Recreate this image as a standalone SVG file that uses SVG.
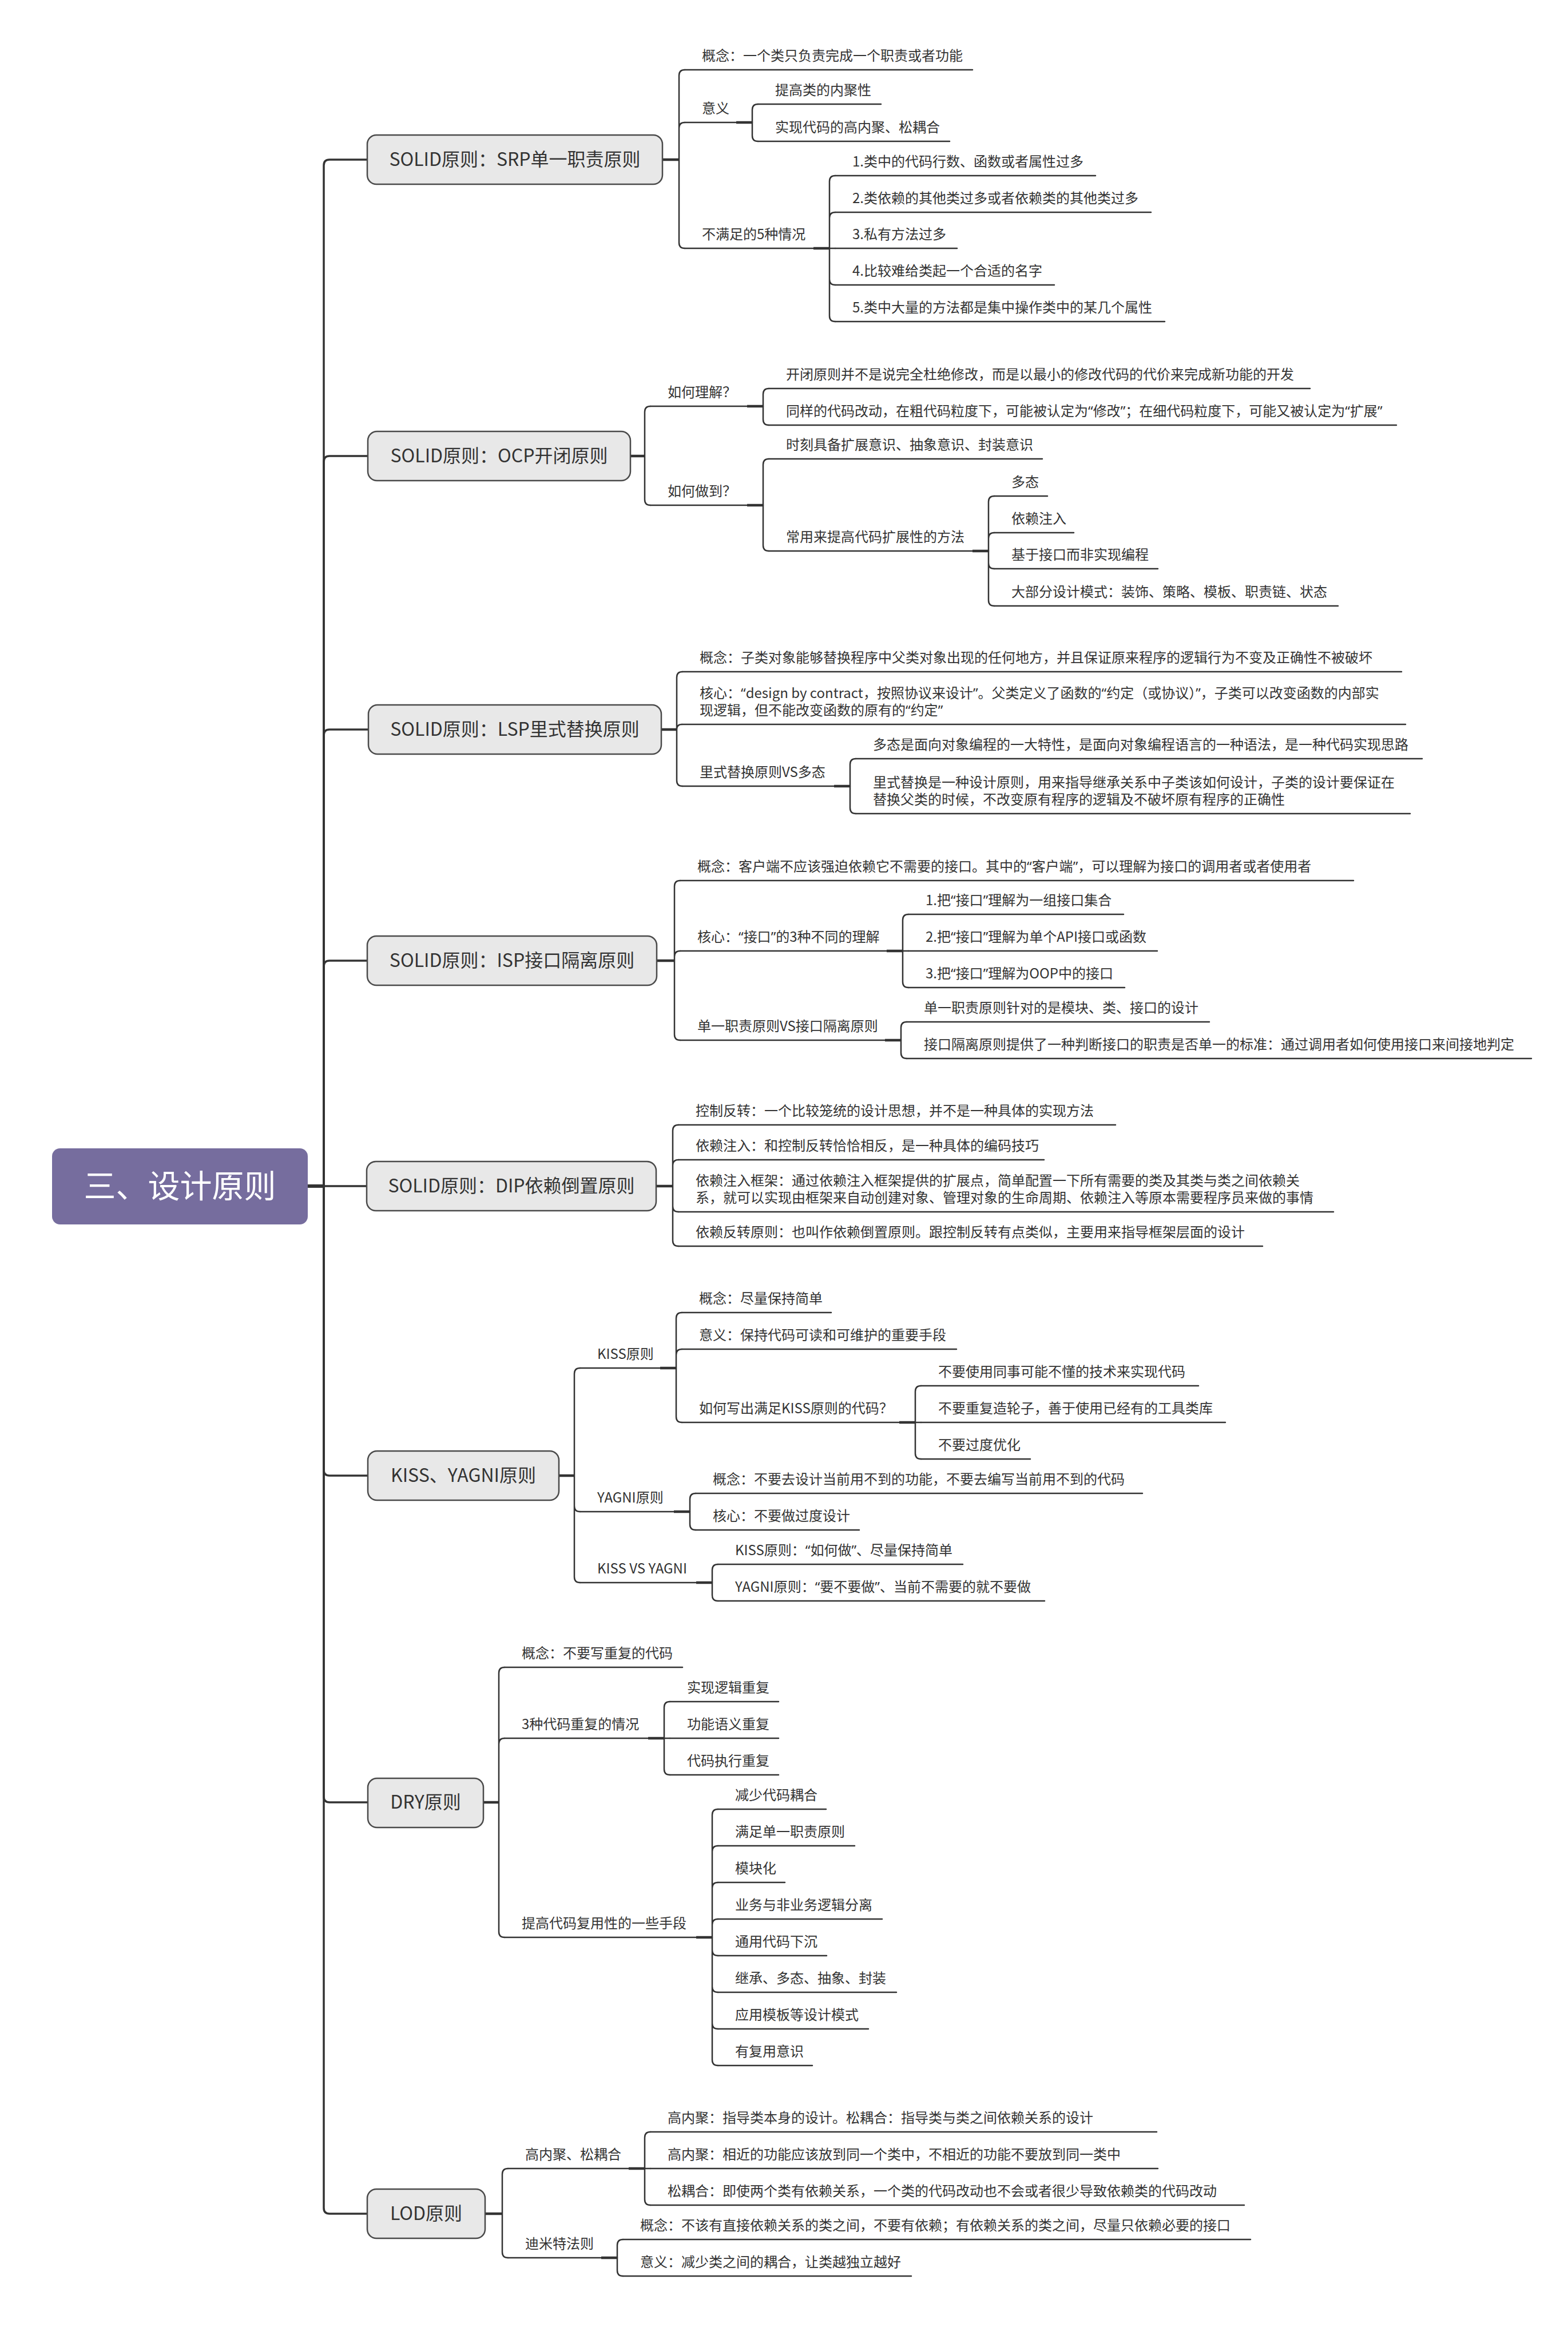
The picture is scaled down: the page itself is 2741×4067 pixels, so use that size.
<svg xmlns="http://www.w3.org/2000/svg" width="2741" height="4067" viewBox="0 0 2741 4067">
<style>
.bg{fill:#ffffff}
text{font-family:"Noto Sans CJK SC","Noto Sans",sans-serif;fill:#333333}
.q{font-family:"Noto Sans","DejaVu Sans",sans-serif}
.t{font-size:24px}
.l1{font-size:32px;text-anchor:middle}
.rt{font-size:56px;fill:#ffffff;text-anchor:middle}
.box{fill:#E8E8E8;stroke:#4a4a4a;stroke-width:2.5}
.root{fill:#766D9E}
.c{fill:none;stroke:#333333;stroke-width:2.5;stroke-linecap:round}
.k{fill:none;stroke:#333333;stroke-width:4.5}
.tr{fill:none;stroke:#333333;stroke-width:3.5}
.rs{fill:none;stroke:#333333;stroke-width:6}
.u{stroke:#333333;stroke-width:2.5;stroke-linecap:round}
</style>
<rect class="bg" x="0" y="0" width="2741" height="4067"/>
<g id="connectors">
<path class="rs" d="M538 2073 H568"/>
<path class="tr" d="M566 2073 V289 Q566 279 576 279 H642"/>
<path class="tr" d="M566 2073 V807 Q566 797 576 797 H643"/>
<path class="tr" d="M566 2073 V1285 Q566 1275 576 1275 H644"/>
<path class="tr" d="M566 2073 V1689 Q566 1679 576 1679 H642"/>
<path class="tr" d="M566 2073 H641"/>
<path class="tr" d="M566 2073 V2569 Q566 2579 576 2579 H643"/>
<path class="tr" d="M566 2073 V3140 Q566 3150 576 3150 H643"/>
<path class="tr" d="M566 2073 V3859 Q566 3869 576 3869 H642"/>
<path class="k" d="M1158 279 H1187 M1102 797 H1127 M1156 1275 H1183 M1148 1679 H1179 M1147 2073 H1176 M977 2579 H1004 M845 3150 H872 M848 3869 H878"/>
<path class="k" d="M1287 214 H1315 M1422 434 H1450 M1306 710 H1334 M1306 883 H1334 M1700 963 H1728 M1458 1374 H1486 M1550 1662 H1578 M1547 1818 H1575 M1154 2391 H1182 M1178 2642 H1206 M1217 2766 H1245 M1572 2486 H1600 M1133 3038 H1161 M1217 3386 H1245 M1099 3790 H1127 M1051 3946 H1079"/>
<path class="c" d="M1187 279 V132 Q1187 122 1197 122 M1187 279 V224 Q1187 214 1197 214 M1187 279 V424 Q1187 434 1197 434"/>
<path class="c" d="M1315 214 V192 Q1315 182 1325 182 M1315 214 V237 Q1315 247 1325 247"/>
<path class="c" d="M1450 434 V317 Q1450 307 1460 307 M1450 434 V381 Q1450 371 1460 371 M1450 434 H1460 M1450 434 V488 Q1450 498 1460 498 M1450 434 V552 Q1450 562 1460 562"/>
<path class="c" d="M1127 797 V720 Q1127 710 1137 710 M1127 797 V873 Q1127 883 1137 883"/>
<path class="c" d="M1334 710 V689 Q1334 679 1344 679 M1334 710 V733 Q1334 743 1344 743"/>
<path class="c" d="M1334 883 V812 Q1334 802 1344 802 M1334 883 V953 Q1334 963 1344 963"/>
<path class="c" d="M1728 963 V877 Q1728 867 1738 867 M1728 963 V941 Q1728 931 1738 931 M1728 963 V984 Q1728 994 1738 994 M1728 963 V1049 Q1728 1059 1738 1059"/>
<path class="c" d="M1183 1275 V1184 Q1183 1174 1193 1174 M1183 1275 Q1183 1266 1192 1266 M1183 1275 V1364 Q1183 1374 1193 1374"/>
<path class="c" d="M1486 1374 V1336 Q1486 1326 1496 1326 M1486 1374 V1412 Q1486 1422 1496 1422"/>
<path class="c" d="M1179 1679 V1549 Q1179 1539 1189 1539 M1179 1679 V1672 Q1179 1662 1189 1662 M1179 1679 V1808 Q1179 1818 1189 1818"/>
<path class="c" d="M1578 1662 V1608 Q1578 1598 1588 1598 M1578 1662 H1588 M1578 1662 V1716 Q1578 1726 1588 1726"/>
<path class="c" d="M1575 1818 V1796 Q1575 1786 1585 1786 M1575 1818 V1840 Q1575 1850 1585 1850"/>
<path class="c" d="M1176 2073 V1976 Q1176 1966 1186 1966 M1176 2073 V2037 Q1176 2027 1186 2027 M1176 2073 V2108 Q1176 2118 1186 2118 M1176 2073 V2168 Q1176 2178 1186 2178"/>
<path class="c" d="M1004 2579 V2401 Q1004 2391 1014 2391 M1004 2579 V2632 Q1004 2642 1014 2642 M1004 2579 V2756 Q1004 2766 1014 2766"/>
<path class="c" d="M1182 2391 V2304 Q1182 2294 1192 2294 M1182 2391 V2368 Q1182 2358 1192 2358 M1182 2391 V2476 Q1182 2486 1192 2486"/>
<path class="c" d="M1600 2486 V2432 Q1600 2422 1610 2422 M1600 2486 H1610 M1600 2486 V2540 Q1600 2550 1610 2550"/>
<path class="c" d="M1206 2642 V2620 Q1206 2610 1216 2610 M1206 2642 V2664 Q1206 2674 1216 2674"/>
<path class="c" d="M1245 2766 V2744 Q1245 2734 1255 2734 M1245 2766 V2788 Q1245 2798 1255 2798"/>
<path class="c" d="M872 3150 V2924 Q872 2914 882 2914 M872 3150 V3048 Q872 3038 882 3038 M872 3150 V3376 Q872 3386 882 3386"/>
<path class="c" d="M1161 3038 V2984 Q1161 2974 1171 2974 M1161 3038 H1171 M1161 3038 V3092 Q1161 3102 1171 3102"/>
<path class="c" d="M1245 3386 V3172 Q1245 3162 1255 3162 M1245 3386 V3236 Q1245 3226 1255 3226 M1245 3386 V3300 Q1245 3290 1255 3290 M1245 3386 V3364 Q1245 3354 1255 3354 M1245 3386 V3408 Q1245 3418 1255 3418 M1245 3386 V3472 Q1245 3482 1255 3482 M1245 3386 V3536 Q1245 3546 1255 3546 M1245 3386 V3600 Q1245 3610 1255 3610"/>
<path class="c" d="M878 3869 V3800 Q878 3790 888 3790 M878 3869 V3936 Q878 3946 888 3946"/>
<path class="c" d="M1127 3790 V3736 Q1127 3726 1137 3726 M1127 3790 H1137 M1127 3790 V3844 Q1127 3854 1137 3854"/>
<path class="c" d="M1079 3946 V3924 Q1079 3914 1089 3914 M1079 3946 V3968 Q1079 3978 1089 3978"/>
</g>
<g id="n-root"><rect class="root" x="91" y="2007" width="447" height="133" rx="14"/><text class="rt" x="314.5" y="2093">三、设计原则</text></g>

<g id="n-srp"><rect class="box" x="642" y="236" width="516" height="86" rx="16"/><text class="l1" x="900" y="290">SOLID原则：SRP单一职责原则</text></g>
<g id="n-srp-1"><line class="u" x1="1197" y1="122" x2="1700" y2="122"/><text class="t" x="1227" y="106">概念：一个类只负责完成一个职责或者功能</text></g>
<g id="n-srp-2"><line class="u" x1="1197" y1="214" x2="1315" y2="214"/><text class="t" x="1227" y="198">意义</text></g>
<g id="n-srp-2-1"><line class="u" x1="1325" y1="182" x2="1540" y2="182"/><text class="t" x="1355" y="166">提高类的内聚性</text></g>
<g id="n-srp-2-2"><line class="u" x1="1325" y1="247" x2="1660" y2="247"/><text class="t" x="1355" y="231">实现代码的高内聚、松耦合</text></g>
<g id="n-srp-3"><line class="u" x1="1197" y1="434" x2="1450" y2="434"/><text class="t" x="1227" y="418">不满足的5种情况</text></g>
<g id="n-srp-3-1"><line class="u" x1="1460" y1="307" x2="1915" y2="307"/><text class="t" x="1490" y="291">1.类中的代码行数、函数或者属性过多</text></g>
<g id="n-srp-3-2"><line class="u" x1="1460" y1="371" x2="2012" y2="371"/><text class="t" x="1490" y="355">2.类依赖的其他类过多或者依赖类的其他类过多</text></g>
<g id="n-srp-3-3"><line class="u" x1="1460" y1="434" x2="1673" y2="434"/><text class="t" x="1490" y="418">3.私有方法过多</text></g>
<g id="n-srp-3-4"><line class="u" x1="1460" y1="498" x2="1843" y2="498"/><text class="t" x="1490" y="482">4.比较难给类起一个合适的名字</text></g>
<g id="n-srp-3-5"><line class="u" x1="1460" y1="562" x2="2036" y2="562"/><text class="t" x="1490" y="546">5.类中大量的方法都是集中操作类中的某几个属性</text></g>

<g id="n-ocp"><rect class="box" x="643" y="754" width="459" height="86" rx="16"/><text class="l1" x="872.5" y="808">SOLID原则：OCP开闭原则</text></g>
<g id="n-ocp-1"><line class="u" x1="1137" y1="710" x2="1334" y2="710"/><text class="t" x="1167" y="694">如何理解？</text></g>
<g id="n-ocp-1-1"><line class="u" x1="1344" y1="679" x2="2290" y2="679"/><text class="t" x="1374" y="663">开闭原则并不是说完全杜绝修改，而是以最小的修改代码的代价来完成新功能的开发</text></g>
<g id="n-ocp-1-2"><line class="u" x1="1344" y1="743" x2="2441" y2="743"/><text class="t" x="1374" y="727">同样的代码改动，在粗代码粒度下，可能被认定为<tspan class="q">“</tspan>修改<tspan class="q">”</tspan>；在细代码粒度下，可能又被认定为<tspan class="q">“</tspan>扩展<tspan class="q">”</tspan></text></g>
<g id="n-ocp-2"><line class="u" x1="1137" y1="883" x2="1334" y2="883"/><text class="t" x="1167" y="867">如何做到？</text></g>
<g id="n-ocp-2-1"><line class="u" x1="1344" y1="802" x2="1822" y2="802"/><text class="t" x="1374" y="786">时刻具备扩展意识、抽象意识、封装意识</text></g>
<g id="n-ocp-2-2"><line class="u" x1="1344" y1="963" x2="1728" y2="963"/><text class="t" x="1374" y="947">常用来提高代码扩展性的方法</text></g>
<g id="n-ocp-2-2-1"><line class="u" x1="1738" y1="867" x2="1831" y2="867"/><text class="t" x="1768" y="851">多态</text></g>
<g id="n-ocp-2-2-2"><line class="u" x1="1738" y1="931" x2="1877" y2="931"/><text class="t" x="1768" y="915">依赖注入</text></g>
<g id="n-ocp-2-2-3"><line class="u" x1="1738" y1="994" x2="2024" y2="994"/><text class="t" x="1768" y="978">基于接口而非实现编程</text></g>
<g id="n-ocp-2-2-4"><line class="u" x1="1738" y1="1059" x2="2339" y2="1059"/><text class="t" x="1768" y="1043">大部分设计模式：装饰、策略、模板、职责链、状态</text></g>

<g id="n-lsp"><rect class="box" x="644" y="1232" width="512" height="86" rx="16"/><text class="l1" x="900" y="1286">SOLID原则：LSP里式替换原则</text></g>
<g id="n-lsp-1"><line class="u" x1="1193" y1="1174" x2="2450" y2="1174"/><text class="t" x="1223" y="1158">概念：子类对象能够替换程序中父类对象出现的任何地方，并且保证原来程序的逻辑行为不变及正确性不被破坏</text></g>
<g id="n-lsp-2"><line class="u" x1="1192" y1="1266" x2="2457" y2="1266"/><text class="t" x="1223" y="1220">核心：<tspan class="q">“</tspan>design by contract，按照协议来设计<tspan class="q">”</tspan>。父类定义了函数的<tspan class="q">“</tspan>约定（或协议）<tspan class="q">”</tspan>，子类可以改变函数的内部实</text><text class="t" x="1223" y="1250">现逻辑，但不能改变函数的原有的<tspan class="q">“</tspan>约定<tspan class="q">”</tspan></text></g>
<g id="n-lsp-3"><line class="u" x1="1193" y1="1374" x2="1486" y2="1374"/><text class="t" x="1223" y="1358">里式替换原则VS多态</text></g>
<g id="n-lsp-3-1"><line class="u" x1="1496" y1="1326" x2="2486" y2="1326"/><text class="t" x="1526" y="1310">多态是面向对象编程的一大特性，是面向对象编程语言的一种语法，是一种代码实现思路</text></g>
<g id="n-lsp-3-2"><line class="u" x1="1496" y1="1422" x2="2465" y2="1422"/><text class="t" x="1526" y="1376">里式替换是一种设计原则，用来指导继承关系中子类该如何设计，子类的设计要保证在</text><text class="t" x="1526" y="1406">替换父类的时候，不改变原有程序的逻辑及不破坏原有程序的正确性</text></g>

<g id="n-isp"><rect class="box" x="642" y="1636" width="506" height="86" rx="16"/><text class="l1" x="895" y="1690">SOLID原则：ISP接口隔离原则</text></g>
<g id="n-isp-1"><line class="u" x1="1189" y1="1539" x2="2366" y2="1539"/><text class="t" x="1219" y="1523">概念：客户端不应该强迫依赖它不需要的接口。其中的<tspan class="q">“</tspan>客户端<tspan class="q">”</tspan>，可以理解为接口的调用者或者使用者</text></g>
<g id="n-isp-2"><line class="u" x1="1189" y1="1662" x2="1578" y2="1662"/><text class="t" x="1219" y="1646">核心：<tspan class="q">“</tspan>接口<tspan class="q">”</tspan>的3种不同的理解</text></g>
<g id="n-isp-2-1"><line class="u" x1="1588" y1="1598" x2="1964" y2="1598"/><text class="t" x="1618" y="1582">1.把<tspan class="q">“</tspan>接口<tspan class="q">”</tspan>理解为一组接口集合</text></g>
<g id="n-isp-2-2"><line class="u" x1="1588" y1="1662" x2="2023" y2="1662"/><text class="t" x="1618" y="1646">2.把<tspan class="q">“</tspan>接口<tspan class="q">”</tspan>理解为单个API接口或函数</text></g>
<g id="n-isp-2-3"><line class="u" x1="1588" y1="1726" x2="1966" y2="1726"/><text class="t" x="1618" y="1710">3.把<tspan class="q">“</tspan>接口<tspan class="q">”</tspan>理解为OOP中的接口</text></g>
<g id="n-isp-3"><line class="u" x1="1189" y1="1818" x2="1575" y2="1818"/><text class="t" x="1219" y="1802">单一职责原则VS接口隔离原则</text></g>
<g id="n-isp-3-1"><line class="u" x1="1585" y1="1786" x2="2114" y2="1786"/><text class="t" x="1615" y="1770">单一职责原则针对的是模块、类、接口的设计</text></g>
<g id="n-isp-3-2"><line class="u" x1="1585" y1="1850" x2="2677" y2="1850"/><text class="t" x="1615" y="1834">接口隔离原则提供了一种判断接口的职责是否单一的标准：通过调用者如何使用接口来间接地判定</text></g>

<g id="n-dip"><rect class="box" x="641" y="2030" width="506" height="86" rx="16"/><text class="l1" x="894" y="2084">SOLID原则：DIP依赖倒置原则</text></g>
<g id="n-dip-1"><line class="u" x1="1186" y1="1966" x2="1950" y2="1966"/><text class="t" x="1216" y="1950">控制反转：一个比较笼统的设计思想，并不是一种具体的实现方法</text></g>
<g id="n-dip-2"><line class="u" x1="1186" y1="2027" x2="1825" y2="2027"/><text class="t" x="1216" y="2011">依赖注入：和控制反转恰恰相反，是一种具体的编码技巧</text></g>
<g id="n-dip-3"><line class="u" x1="1186" y1="2118" x2="2331" y2="2118"/><text class="t" x="1216" y="2072">依赖注入框架：通过依赖注入框架提供的扩展点，简单配置一下所有需要的类及其类与类之间依赖关</text><text class="t" x="1216" y="2102">系，就可以实现由框架来自动创建对象、管理对象的生命周期、依赖注入等原本需要程序员来做的事情</text></g>
<g id="n-dip-4"><line class="u" x1="1186" y1="2178" x2="2207" y2="2178"/><text class="t" x="1216" y="2162">依赖反转原则：也叫作依赖倒置原则。跟控制反转有点类似，主要用来指导框架层面的设计</text></g>

<g id="n-kiss"><rect class="box" x="643" y="2536" width="334" height="86" rx="16"/><text class="l1" x="810" y="2590">KISS、YAGNI原则</text></g>
<g id="n-kiss-1"><line class="u" x1="1014" y1="2391" x2="1182" y2="2391"/><text class="t" x="1044" y="2375">KISS原则</text></g>
<g id="n-kiss-1-1"><line class="u" x1="1192" y1="2294" x2="1453" y2="2294"/><text class="t" x="1222" y="2278">概念：尽量保持简单</text></g>
<g id="n-kiss-1-2"><line class="u" x1="1192" y1="2358" x2="1672" y2="2358"/><text class="t" x="1222" y="2342">意义：保持代码可读和可维护的重要手段</text></g>
<g id="n-kiss-1-3"><line class="u" x1="1192" y1="2486" x2="1600" y2="2486"/><text class="t" x="1222" y="2470">如何写出满足KISS原则的代码？</text></g>
<g id="n-kiss-1-3-1"><line class="u" x1="1610" y1="2422" x2="2095" y2="2422"/><text class="t" x="1640" y="2406">不要使用同事可能不懂的技术来实现代码</text></g>
<g id="n-kiss-1-3-2"><line class="u" x1="1610" y1="2486" x2="2142" y2="2486"/><text class="t" x="1640" y="2470">不要重复造轮子，善于使用已经有的工具类库</text></g>
<g id="n-kiss-1-3-3"><line class="u" x1="1610" y1="2550" x2="1801" y2="2550"/><text class="t" x="1640" y="2534">不要过度优化</text></g>
<g id="n-kiss-2"><line class="u" x1="1014" y1="2642" x2="1206" y2="2642"/><text class="t" x="1044" y="2626">YAGNI原则</text></g>
<g id="n-kiss-2-1"><line class="u" x1="1216" y1="2610" x2="1997" y2="2610"/><text class="t" x="1246" y="2594">概念：不要去设计当前用不到的功能，不要去编写当前用不到的代码</text></g>
<g id="n-kiss-2-2"><line class="u" x1="1216" y1="2674" x2="1502" y2="2674"/><text class="t" x="1246" y="2658">核心：不要做过度设计</text></g>
<g id="n-kiss-3"><line class="u" x1="1014" y1="2766" x2="1245" y2="2766"/><text class="t" x="1044" y="2750">KISS VS YAGNI</text></g>
<g id="n-kiss-3-1"><line class="u" x1="1255" y1="2734" x2="1683" y2="2734"/><text class="t" x="1285" y="2718">KISS原则：<tspan class="q">“</tspan>如何做<tspan class="q">”</tspan>、尽量保持简单</text></g>
<g id="n-kiss-3-2"><line class="u" x1="1255" y1="2798" x2="1826" y2="2798"/><text class="t" x="1285" y="2782">YAGNI原则：<tspan class="q">“</tspan>要不要做<tspan class="q">”</tspan>、当前不需要的就不要做</text></g>

<g id="n-dry"><rect class="box" x="643" y="3108" width="202" height="86" rx="16"/><text class="l1" x="744" y="3161">DRY原则</text></g>
<g id="n-dry-1"><line class="u" x1="882" y1="2914" x2="1193" y2="2914"/><text class="t" x="912" y="2898">概念：不要写重复的代码</text></g>
<g id="n-dry-2"><line class="u" x1="882" y1="3038" x2="1161" y2="3038"/><text class="t" x="912" y="3022">3种代码重复的情况</text></g>
<g id="n-dry-2-1"><line class="u" x1="1171" y1="2974" x2="1361" y2="2974"/><text class="t" x="1201" y="2958">实现逻辑重复</text></g>
<g id="n-dry-2-2"><line class="u" x1="1171" y1="3038" x2="1361" y2="3038"/><text class="t" x="1201" y="3022">功能语义重复</text></g>
<g id="n-dry-2-3"><line class="u" x1="1171" y1="3102" x2="1361" y2="3102"/><text class="t" x="1201" y="3086">代码执行重复</text></g>
<g id="n-dry-3"><line class="u" x1="882" y1="3386" x2="1245" y2="3386"/><text class="t" x="912" y="3370">提高代码复用性的一些手段</text></g>
<g id="n-dry-3-1"><line class="u" x1="1255" y1="3162" x2="1444" y2="3162"/><text class="t" x="1285" y="3146">减少代码耦合</text></g>
<g id="n-dry-3-2"><line class="u" x1="1255" y1="3226" x2="1494" y2="3226"/><text class="t" x="1285" y="3210">满足单一职责原则</text></g>
<g id="n-dry-3-3"><line class="u" x1="1255" y1="3290" x2="1372" y2="3290"/><text class="t" x="1285" y="3274">模块化</text></g>
<g id="n-dry-3-4"><line class="u" x1="1255" y1="3354" x2="1542" y2="3354"/><text class="t" x="1285" y="3338">业务与非业务逻辑分离</text></g>
<g id="n-dry-3-5"><line class="u" x1="1255" y1="3418" x2="1445" y2="3418"/><text class="t" x="1285" y="3402">通用代码下沉</text></g>
<g id="n-dry-3-6"><line class="u" x1="1255" y1="3482" x2="1567" y2="3482"/><text class="t" x="1285" y="3466">继承、多态、抽象、封装</text></g>
<g id="n-dry-3-7"><line class="u" x1="1255" y1="3546" x2="1518" y2="3546"/><text class="t" x="1285" y="3530">应用模板等设计模式</text></g>
<g id="n-dry-3-8"><line class="u" x1="1255" y1="3610" x2="1420" y2="3610"/><text class="t" x="1285" y="3594">有复用意识</text></g>

<g id="n-lod"><rect class="box" x="642" y="3826" width="206" height="86" rx="16"/><text class="l1" x="745" y="3880">LOD原则</text></g>
<g id="n-lod-1"><line class="u" x1="888" y1="3790" x2="1127" y2="3790"/><text class="t" x="918" y="3774">高内聚、松耦合</text></g>
<g id="n-lod-1-1"><line class="u" x1="1137" y1="3726" x2="2022" y2="3726"/><text class="t" x="1167" y="3710">高内聚：指导类本身的设计。松耦合：指导类与类之间依赖关系的设计</text></g>
<g id="n-lod-1-2"><line class="u" x1="1137" y1="3790" x2="2024" y2="3790"/><text class="t" x="1167" y="3774">高内聚：相近的功能应该放到同一个类中，不相近的功能不要放到同一类中</text></g>
<g id="n-lod-1-3"><line class="u" x1="1137" y1="3854" x2="2175" y2="3854"/><text class="t" x="1167" y="3838">松耦合：即使两个类有依赖关系，一个类的代码改动也不会或者很少导致依赖类的代码改动</text></g>
<g id="n-lod-2"><line class="u" x1="888" y1="3946" x2="1079" y2="3946"/><text class="t" x="918" y="3930">迪米特法则</text></g>
<g id="n-lod-2-1"><line class="u" x1="1089" y1="3914" x2="2186" y2="3914"/><text class="t" x="1119" y="3898">概念：不该有直接依赖关系的类之间，不要有依赖；有依赖关系的类之间，尽量只依赖必要的接口</text></g>
<g id="n-lod-2-2"><line class="u" x1="1089" y1="3978" x2="1593" y2="3978"/><text class="t" x="1119" y="3962">意义：减少类之间的耦合，让类越独立越好</text></g>
</svg>
